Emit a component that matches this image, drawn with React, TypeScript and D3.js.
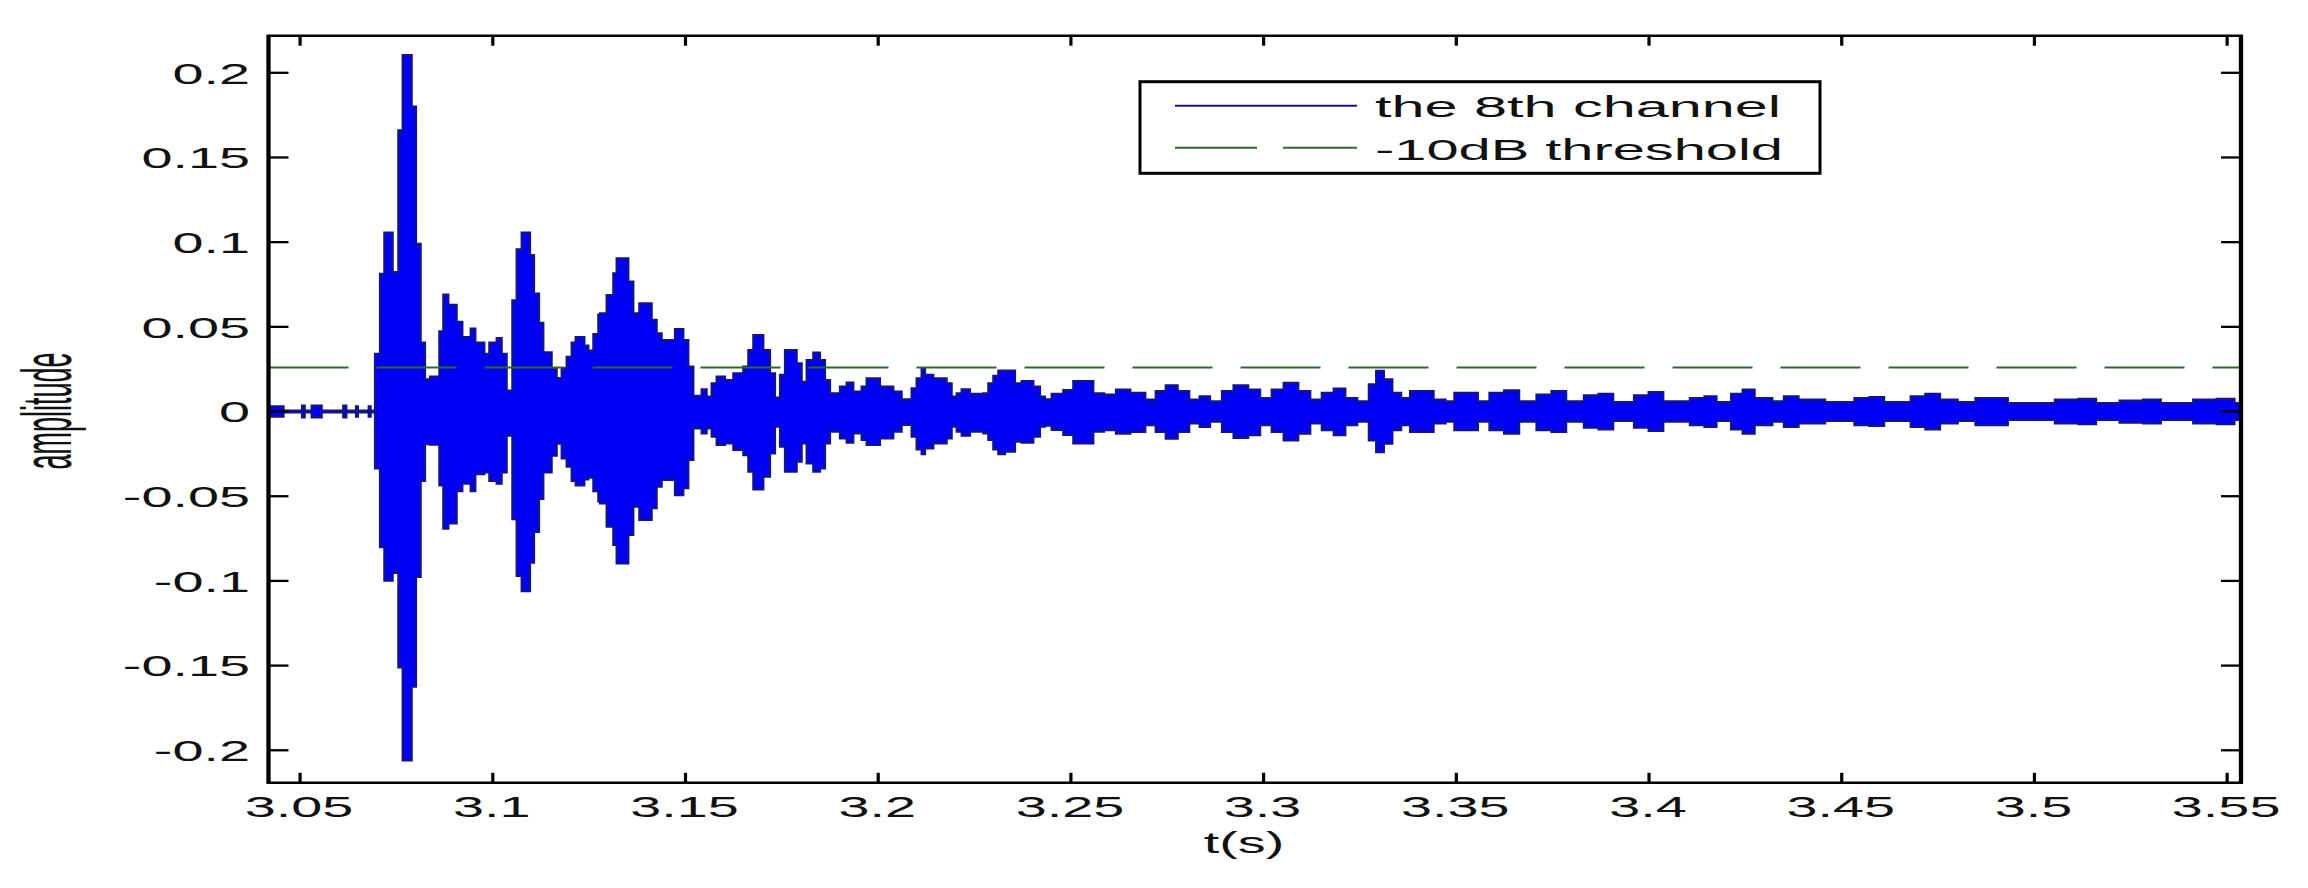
import React, { useRef, useEffect } from 'react';
import * as d3 from 'd3';

// envelope of the 8th channel, [t (s), upper, lower]
const onsetEnvelope = [
  [3.0418, 0.003, -0.003], [3.0457, 0.0005, -0.0005], [3.0505, 0.0035, -0.0035], [3.0512, 0.0005, -0.0005],
  [3.053, 0.0035, -0.0035], [3.0556, 0.0005, -0.0005], [3.0612, 0.0035, -0.0035], [3.062, 0.0005, -0.0005],
  [3.0645, 0.003, -0.003], [3.065, 0.0005, -0.0005], [3.0678, 0.003, -0.003], [3.0683, 0.0005, -0.0005],
];

const firstBurstEnvelope = [
  [3.06943, 0.034, -0.0336], [3.07073, 0.0813, -0.08], [3.07186, 0.1056, -0.0999], [3.07402, 0.0823, -0.0952],
  [3.07549, 0.166, -0.151], [3.07661, 0.2105, -0.206], [3.07895, 0.18, -0.1625], [3.08007, 0.099, -0.0976],
  [3.08128, 0.0407, -0.041], [3.08241, 0.019, -0.0193], [3.0837, 0.0206, -0.0196], [3.08613, 0.0474, -0.0436],
  [3.08716, 0.069, -0.0692], [3.08846, 0.063, -0.066], [3.09062, 0.053, -0.047], [3.0921, 0.044, -0.0426],
  [3.09426, 0.049, -0.047], [3.09547, 0.0407, -0.037], [3.0978, 0.034, -0.036], [3.0991, 0.0407, -0.041],
  [3.101, 0.0433, -0.0426], [3.1023, 0.034, -0.036], [3.1036, 0.0124, -0.0143],
];

const secondBurstEnvelope = [
  [3.10507, 0.0657, -0.0636], [3.10619, 0.0957, -0.097], [3.10749, 0.1056, -0.106], [3.10965, 0.0923, -0.0892],
  [3.11069, 0.0696, -0.071], [3.11199, 0.0523, -0.0516], [3.11311, 0.035, -0.036], [3.11527, 0.0257, -0.026],
  [3.11657, 0.0198, -0.019], [3.11787, 0.0257, -0.0276], [3.11916, 0.0323, -0.0326], [3.12046, 0.0407, -0.041],
  [3.1215, 0.044, -0.0436], [3.12375, 0.039, -0.04], [3.12479, 0.036, -0.039], [3.12609, 0.0457, -0.047],
  [3.12738, 0.0573, -0.053], [3.12781, 0.058, -0.0542], [3.12954, 0.0688, -0.068], [3.13127, 0.0816, -0.0788],
  [3.13213, 0.0904, -0.0896], [3.13516, 0.0767, -0.0729], [3.13646, 0.058, -0.0562], [3.13802, 0.0639, -0.064],
  [3.14122, 0.0541, -0.0571], [3.14251, 0.0462, -0.0444], [3.14381, 0.0422, -0.0404], [3.14727, 0.0487, -0.0493],
  [3.14943, 0.0422, -0.0453], [3.15073, 0.0265, -0.0286],
];

const midEnvelope = [
  [3.15203, 0.0092, -0.0099], [3.15419, 0.0131, -0.0129], [3.15549, 0.0088, -0.0099], [3.15678, 0.0166, -0.0148],
  [3.15808, 0.0206, -0.0197], [3.16024, 0.0186, -0.0188], [3.16241, 0.0226, -0.0227], [3.165, 0.0265, -0.0257],
  [3.1663, 0.0363, -0.0355], [3.1676, 0.0452, -0.0459], [3.17019, 0.0363, -0.0384], [3.17192, 0.0226, -0.0247],
  [3.17322, 0.0082, -0.0089], [3.17452, 0.0216, -0.0207], [3.17581, 0.0363, -0.0355], [3.17884, 0.0285, -0.0296],
  [3.18014, 0.0176, -0.0188], [3.18143, 0.0304, -0.0306], [3.18316, 0.0348, -0.0355], [3.18489, 0.0304, -0.0335],
  [3.18619, 0.0186, -0.0188], [3.18749, 0.0107, -0.0119], [3.19008, 0.0147, -0.0158], [3.19181, 0.0171, -0.0184],
  [3.19354, 0.0117, -0.0129], [3.1957, 0.0147, -0.0168], [3.197, 0.0196, -0.0197], [3.20046, 0.0147, -0.0158],
  [3.20392, 0.0117, -0.0119], [3.20608, 0.0072, -0.0079], [3.20867, 0.0137, -0.0148], [3.20997, 0.0196, -0.0223],
  [3.21127, 0.0255, -0.0251], [3.21214, 0.0216, -0.0217], [3.2143, 0.0196, -0.0188], [3.21776, 0.0166, -0.0158],
  [3.21906, 0.0088, -0.0089], [3.22036, 0.0107, -0.0119], [3.22165, 0.0131, -0.0142], [3.22381, 0.0104, -0.0119],
  [3.22727, 0.0107, -0.0129], [3.22857, 0.0166, -0.0168], [3.22987, 0.021, -0.0223], [3.23117, 0.0241, -0.0251],
  [3.2329, 0.0241, -0.0237], [3.23549, 0.0166, -0.0178], [3.23722, 0.018, -0.0184], [3.24025, 0.0147, -0.0148],
  [3.24198, 0.0088, -0.0089], [3.24327, 0.0072, -0.0083], [3.245, 0.0104, -0.0109], [3.24803, 0.0127, -0.0138],
  [3.25062, 0.018, -0.0188], [3.25581, 0.0107, -0.0119],
];

const tailEnvelope = [
  [3.2586, 0.01, -0.011], [3.2617, 0.013, -0.013], [3.2654, 0.011, -0.012], [3.2693, 0.007, -0.008],
  [3.272, 0.012, -0.012], [3.2746, 0.0155, -0.016], [3.2777, 0.012, -0.012], [3.2807, 0.007, -0.007],
  [3.2834, 0.009, -0.009], [3.2861, 0.006, -0.006], [3.2892, 0.012, -0.012], [3.2922, 0.0155, -0.0155],
  [3.296, 0.013, -0.014], [3.2991, 0.008, -0.008], [3.3021, 0.013, -0.012], [3.3052, 0.017, -0.017],
  [3.309, 0.012, -0.013], [3.3121, 0.007, -0.007], [3.3151, 0.011, -0.011], [3.3182, 0.0135, -0.014],
  [3.3212, 0.008, -0.008], [3.3243, 0.006, -0.006], [3.3273, 0.016, -0.017], [3.3292, 0.024, -0.024],
  [3.3312, 0.019, -0.019], [3.3334, 0.011, -0.011], [3.3357, 0.008, -0.008], [3.338, 0.012, -0.012],
  [3.3411, 0.012, -0.012], [3.3441, 0.007, -0.007], [3.3472, 0.006, -0.006], [3.3495, 0.011, -0.011],
  [3.3525, 0.011, -0.011], [3.3556, 0.006, -0.006], [3.3586, 0.011, -0.011], [3.3624, 0.0125, -0.013],
  [3.3663, 0.006, -0.006], [3.3708, 0.01, -0.011], [3.3747, 0.012, -0.012], [3.3785, 0.006, -0.006],
  [3.3831, 0.0095, -0.0095], [3.3869, 0.0105, -0.0105], [3.3907, 0.0055, -0.0055], [3.3961, 0.0095, -0.0095],
  [3.3999, 0.0115, -0.0115], [3.4037, 0.006, -0.006], [3.4106, 0.008, -0.008], [3.4144, 0.009, -0.009],
  [3.4175, 0.0055, -0.0055], [3.4213, 0.0105, -0.0105], [3.4243, 0.013, -0.013], [3.4274, 0.008, -0.008],
  [3.432, 0.006, -0.006], [3.435, 0.009, -0.009], [3.4388, 0.007, -0.007], [3.4457, 0.0055, -0.0055],
  [3.4533, 0.008, -0.008], [3.4572, 0.0085, -0.0085], [3.461, 0.0055, -0.0055], [3.4679, 0.009, -0.009],
  [3.4717, 0.0105, -0.0105], [3.4755, 0.007, -0.007], [3.4801, 0.0055, -0.0055], [3.4847, 0.008, -0.008],
  [3.4893, 0.008, -0.008], [3.4931, 0.005, -0.005], [3.5053, 0.007, -0.007], [3.5114, 0.0075, -0.0075],
  [3.516, 0.005, -0.005], [3.5221, 0.0065, -0.0065], [3.5282, 0.007, -0.007], [3.5328, 0.005, -0.005],
  [3.5412, 0.007, -0.007], [3.5473, 0.0075, -0.0075], [3.5519, 0.005, -0.005], [3.5536, 0.005, -0.005],
];

const thresholdValue = 0.026;
const xTickValues = [3.05, 3.1, 3.15, 3.2, 3.25, 3.3, 3.35, 3.4, 3.45, 3.5, 3.55];
const yTickValues = [-0.2, -0.15, -0.1, -0.05, 0, 0.05, 0.1, 0.15, 0.2];
const legendLabels = ['the 8th channel', '-10dB threshold'];

const FONT = 'Arial, "Liberation Sans", sans-serif';

const App = () => {
  const svgRef = useRef(null);

  useEffect(() => {
    const W = 2308, H = 888;
    const left = 268.5, right = 2241, top = 35.7, bottom = 782.8;

    const svg = d3.select(svgRef.current).attr('width', W).attr('height', H);
    svg.selectAll('*').remove();

    svg.append('rect').attr('width', W).attr('height', H).attr('fill', '#fff');

    const x = d3.scaleLinear().domain([3.0418, 3.5536]).range([left, right]);
    const y = d3.scaleLinear().domain([-0.2192, 0.2219]).range([bottom, top]);

    const envelope = [...onsetEnvelope, ...firstBurstEnvelope, ...secondBurstEnvelope, ...midEnvelope, ...tailEnvelope];

    svg.append('clipPath').attr('id', 'plotClip')
      .append('rect').attr('x', left).attr('y', top).attr('width', right - left).attr('height', bottom - top);

    const plot = svg.append('g').attr('clip-path', 'url(#plotClip)');

    const area = d3.area()
      .x(d => x(d[0]))
      .y0(d => y(d[2]))
      .y1(d => y(d[1]))
      .curve(d3.curveStepAfter);

    plot.append('path').datum(envelope).attr('d', area).attr('fill', '#0000f5');

    const upperLine = d3.line().x(d => x(d[0])).y(d => y(d[1])).curve(d3.curveStepAfter);
    const lowerLine = d3.line().x(d => x(d[0])).y(d => y(d[2])).curve(d3.curveStepAfter);
    [upperLine, lowerLine].forEach(l => {
      plot.append('path').datum(envelope).attr('d', l)
        .attr('fill', 'none').attr('stroke', '#14148a').attr('stroke-width', 2.2);
    });

    // -10dB threshold
    plot.append('line')
      .attr('x1', left).attr('x2', right)
      .attr('y1', y(thresholdValue)).attr('y2', y(thresholdValue))
      .attr('stroke', '#2a6a2e').attr('stroke-width', 2)
      .attr('stroke-dasharray', '80,28');

    // axes box
    const axes = svg.append('g').attr('stroke', '#000');
    axes.append('line').attr('x1', left - 2).attr('x2', right + 2).attr('y1', top).attr('y2', top).attr('stroke-width', 2.4);
    axes.append('line').attr('x1', left - 2).attr('x2', right + 2).attr('y1', bottom).attr('y2', bottom).attr('stroke-width', 2.4);
    axes.append('line').attr('x1', left).attr('x2', left).attr('y1', top).attr('y2', bottom).attr('stroke-width', 4.3);
    axes.append('line').attr('x1', right).attr('x2', right).attr('y1', top).attr('y2', bottom).attr('stroke-width', 4.3);

    xTickValues.forEach(v => {
      axes.append('line').attr('x1', x(v)).attr('x2', x(v)).attr('y1', bottom).attr('y2', bottom - 10).attr('stroke-width', 3.2);
      axes.append('line').attr('x1', x(v)).attr('x2', x(v)).attr('y1', top).attr('y2', top + 10).attr('stroke-width', 3.2);
    });
    yTickValues.forEach(v => {
      axes.append('line').attr('x1', left).attr('x2', left + 20).attr('y1', y(v)).attr('y2', y(v)).attr('stroke-width', 2.3);
      axes.append('line').attr('x1', right).attr('x2', right - 20).attr('y1', y(v)).attr('y2', y(v)).attr('stroke-width', 2.3);
    });

    const fmt = v => String(+v.toFixed(2));

    svg.append('g').selectAll('text').data(yTickValues).enter().append('text')
      .attr('transform', d => `translate(250,${y(d) + 10.8}) scale(1.86,1)`)
      .attr('text-anchor', 'end')
      .attr('font-family', FONT).attr('font-size', 30).attr('fill', '#111')
      .text(fmt);

    svg.append('g').selectAll('text').data(xTickValues).enter().append('text')
      .attr('transform', d => `translate(${x(d) - 1},816.7) scale(1.86,1)`)
      .attr('text-anchor', 'middle')
      .attr('font-family', FONT).attr('font-size', 30).attr('fill', '#111')
      .text(fmt);

    svg.append('text')
      .attr('transform', 'translate(1244,853) scale(1.86,1)')
      .attr('text-anchor', 'middle')
      .attr('font-family', FONT).attr('font-size', 30).attr('fill', '#111')
      .text('t(s)');

    svg.append('text')
      .attr('transform', 'translate(70.7,411) rotate(-90) scale(1,2.6)')
      .attr('text-anchor', 'middle')
      .attr('font-family', FONT).attr('font-size', 27).attr('fill', '#111')
      .text('amplitude');

    // legend
    const legend = svg.append('g');
    legend.append('rect')
      .attr('x', 1140).attr('y', 81.7).attr('width', 680).attr('height', 91.6)
      .attr('fill', '#fff').attr('stroke', '#000').attr('stroke-width', 3);
    legend.append('line')
      .attr('x1', 1175).attr('x2', 1357).attr('y1', 105.7).attr('y2', 105.7)
      .attr('stroke', '#14148a').attr('stroke-width', 2);
    legend.append('line')
      .attr('x1', 1175).attr('x2', 1357).attr('y1', 147.7).attr('y2', 147.7)
      .attr('stroke', '#2a6a2e').attr('stroke-width', 2)
      .attr('stroke-dasharray', '82,26');
    [[legendLabels[0], 117.3, 406], [legendLabels[1], 160, 408]].forEach(([label, by, len]) => {
      legend.append('text')
        .attr('x', 1375).attr('y', by)
        .attr('textLength', len).attr('lengthAdjust', 'spacingAndGlyphs')
        .attr('font-family', FONT).attr('font-size', 29.5).attr('fill', '#111')
        .text(label);
    });
  }, []);

  return <svg ref={svgRef} style={{ position: 'absolute', left: 0, top: 0, display: 'block' }}></svg>;
};

export default App;
